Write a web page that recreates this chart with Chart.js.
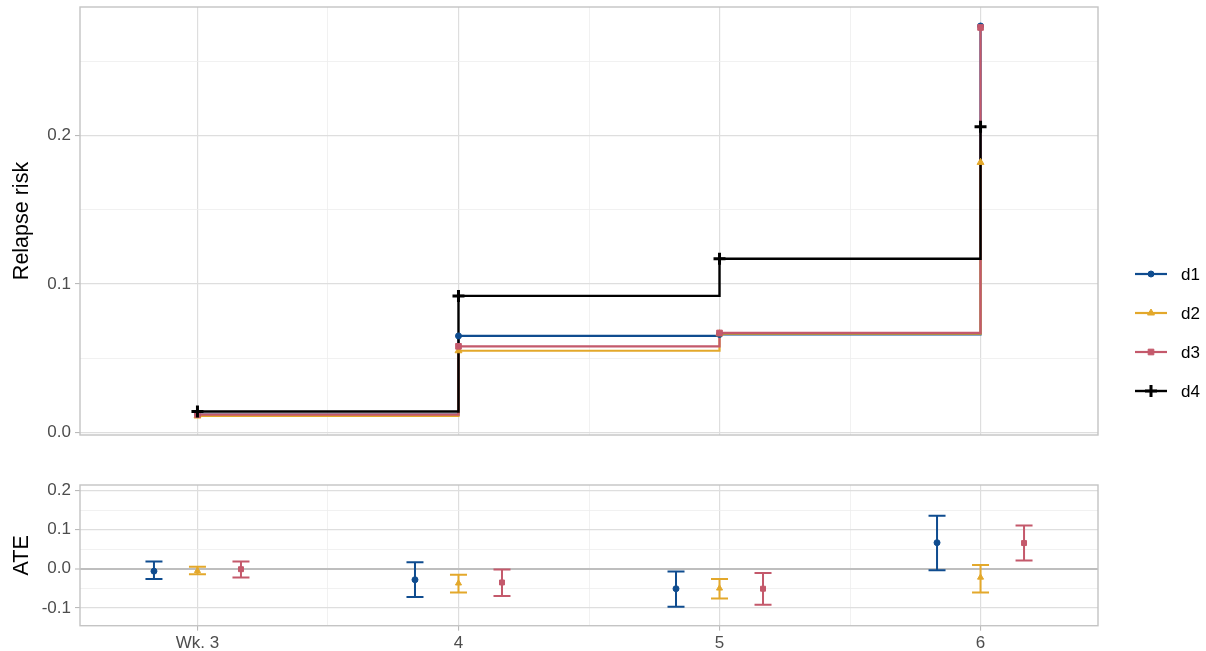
<!DOCTYPE html>
<html>
<head>
<meta charset="utf-8">
<script src="https://cdn.jsdelivr.net/npm/chart.js@4.4.1/dist/chart.umd.min.js"></script>
<style>
  html, body { margin: 0; padding: 0; background: #fff; }
  #wrap { position: relative; width: 1206px; height: 651px; }
  #riskChart { position: absolute; left: 0; top: 0; }
  #ateChart { position: absolute; left: 0; top: 452px; }
</style>
</head>
<body>
<div id="wrap">
  <canvas id="riskChart" width="1206" height="452"></canvas>
  <canvas id="ateChart" width="1206" height="199"></canvas>
</div>
<script>
// Relapse risk step curves (top) + ATE error bars (bottom)
const WEEKS = [3, 4, 5, 6];
const WEEK_LABELS = ["Wk. 3", "4", "5", "6"];

const riskD1 = [0.012, 0.065, 0.066, 0.274];
const riskD2 = [0.011, 0.055, 0.0665, 0.182];
const riskD3 = [0.012, 0.058, 0.067, 0.273];
const riskD4 = [0.014, 0.092, 0.117, 0.206];

const ateD1 = [-0.006, -0.028, -0.051, 0.067];
const ateD1Lo = [-0.026, -0.072, -0.097, -0.004];
const ateD1Hi = [0.019, 0.017, -0.007, 0.136];
const ateD2 = [-0.005, -0.037, -0.050, -0.022];
const ateD2Lo = [-0.014, -0.061, -0.076, -0.061];
const ateD2Hi = [0.005, -0.015, -0.026, 0.010];
const ateD3 = [-0.001, -0.035, -0.051, 0.066];
const ateD3Lo = [-0.022, -0.070, -0.092, 0.021];
const ateD3Hi = [0.019, -0.002, -0.011, 0.111];

const COLORS = { d1: "#0F4C8F", d2: "#E3A82B", d3: "#C4596B", d4: "#000000" };
const SHAPES = { d1: "circle", d2: "triangle", d3: "rect", d4: "cross" };
const RADIUS = { d1: 3, d2: 4, d3: 4, d4: 6 };
const DRAW_ORDER = { d1: 4, d2: 3, d3: 2, d4: 1 };
const DODGE = 1 / 6;

const FONT = "'Liberation Sans', Arial, sans-serif";
const isMajor = (v, step) => Math.abs(v / step - Math.round(v / step)) < 1e-6;

function gridOpts(step, zeroLine) {
  return {
    color: (c) => {
      if (!c.tick) return "#DEDEDE";
      if (zeroLine && Math.abs(c.tick.value) < 1e-9) return "#BEBEBE";
      return isMajor(c.tick.value, step) ? "#DEDEDE" : "#EEEEEE";
    },
    lineWidth: (c) => {
      if (!c.tick) return 1;
      if (zeroLine && Math.abs(c.tick.value) < 1e-9) return 2;
      return isMajor(c.tick.value, step) ? 1.2 : 0.8;
    },
    tickColor: (c) => (c.tick && isMajor(c.tick.value, step) ? "#B3B3B3" : "rgba(0,0,0,0)"),
    tickWidth: 1,
    tickLength: 5,
  };
}

const panelBorder = {
  id: "panelBorder",
  afterDraw(chart) {
    const { ctx, chartArea: a } = chart;
    ctx.save();
    ctx.strokeStyle = "#C4C4C4";
    ctx.lineWidth = 1.4;
    ctx.strokeRect(a.left, a.top, a.right - a.left, a.bottom - a.top);
    ctx.restore();
  },
};

const sideLegend = {
  id: "sideLegend",
  afterDraw(chart) {
    const ctx = chart.ctx;
    chart.data.datasets.filter((ds) => ds.isStep).forEach((ds, i) => {
      const y = 274 + i * 39;
      const key = ds.label;
      ctx.save();
      ctx.strokeStyle = COLORS[key];
      ctx.lineWidth = ds.borderWidth;
      ctx.beginPath();
      ctx.moveTo(1135, y);
      ctx.lineTo(1167, y);
      ctx.stroke();
      ctx.fillStyle = COLORS[key];
      ctx.lineWidth = key === "d4" ? 3 : 1;
      Chart.helpers.drawPoint(ctx, {
        pointStyle: SHAPES[key], radius: RADIUS[key],
        borderWidth: key === "d4" ? 3 : 1, rotation: 0,
      }, 1151, y);
      ctx.fillStyle = "#000";
      ctx.font = "17px " + FONT;
      ctx.textBaseline = "middle";
      ctx.textAlign = "left";
      ctx.fillText(key, 1181, y + 1);
      ctx.restore();
    });
  },
};

const errorBars = {
  id: "errorBars",
  beforeDatasetsDraw(chart) {
    const { ctx, scales: { x, y } } = chart;
    chart.data.datasets.forEach((ds) => {
      ctx.save();
      ctx.strokeStyle = ds.borderColor;
      ctx.lineWidth = 2;
      ds.data.forEach((p) => {
        const px = x.getPixelForValue(p.x);
        const yl = y.getPixelForValue(p.lo);
        const yh = y.getPixelForValue(p.hi);
        ctx.beginPath();
        ctx.moveTo(px, yl); ctx.lineTo(px, yh);
        ctx.moveTo(px - 8.5, yl); ctx.lineTo(px + 8.5, yl);
        ctx.moveTo(px - 8.5, yh); ctx.lineTo(px + 8.5, yh);
        ctx.stroke();
      });
      ctx.restore();
    });
  },
};

// step lines (no markers) are drawn first, markers go on top of all lines
function stepSet(label, values) {
  return {
    label,
    isStep: true,
    order: 10 + DRAW_ORDER[label],
    data: WEEKS.map((w, i) => ({ x: w, y: values[i] })),
    borderColor: COLORS[label],
    borderWidth: label === "d4" ? 2.4 : 2.2,
    stepped: "before",
    pointRadius: 0,
    fill: false,
  };
}

function markerSet(label, values) {
  return {
    label: label + " pts",
    order: DRAW_ORDER[label],
    data: WEEKS.map((w, i) => ({ x: w, y: values[i] })),
    showLine: false,
    pointStyle: SHAPES[label],
    pointRadius: RADIUS[label],
    pointBackgroundColor: COLORS[label],
    pointBorderColor: COLORS[label],
    pointBorderWidth: label === "d4" ? 3 : 1,
  };
}

function ateSet(label, est, lo, hi, shift) {
  return {
    label,
    data: WEEKS.map((w, i) => ({ x: w + shift, y: est[i], lo: lo[i], hi: hi[i] })),
    borderColor: COLORS[label],
    backgroundColor: COLORS[label],
    pointStyle: SHAPES[label],
    pointRadius: label === "d1" ? 3 : 3.5,
    pointBorderWidth: 1,
    showLine: false,
  };
}

const xTicks = [3, 3.5, 4, 4.5, 5, 5.5, 6];

function yAxis(title, min, max, ticks, zeroLine) {
  return {
    type: "linear",
    min, max,
    afterBuildTicks: (s) => { s.ticks = ticks.map((v) => ({ value: v })); },
    afterFit: (s) => { s.width = 80; s.paddingTop = 0; s.paddingBottom = 0; },
    grid: gridOpts(0.1, zeroLine),
    border: { display: false },
    ticks: {
      color: "#4D4D4D",
      font: { family: FONT, size: 17 },
      padding: 4,
      autoSkip: false,
      callback: (v) => (isMajor(v, 0.1) ? v.toFixed(1) : ""),
    },
    title: {
      display: true, text: title, color: "#000",
      font: { family: FONT, size: 21.5 },
      padding: { top: 9, bottom: 0 },
    },
  };
}

new Chart(document.getElementById("riskChart"), {
  type: "line",
  data: {
    datasets: [
      stepSet("d1", riskD1),
      stepSet("d2", riskD2),
      stepSet("d3", riskD3),
      stepSet("d4", riskD4),
      markerSet("d1", riskD1),
      markerSet("d2", riskD2),
      markerSet("d3", riskD3),
      markerSet("d4", riskD4),
    ],
  },
  options: {
    responsive: false,
    animation: false,
    layout: { autoPadding: false, padding: { left: 0, right: 108, top: 7, bottom: 17 } },
    plugins: { legend: { display: false }, tooltip: { enabled: false } },
    scales: {
      x: {
        type: "linear", min: 2.55, max: 6.45,
        afterBuildTicks: (s) => { s.ticks = xTicks.map((v) => ({ value: v })); },
        afterFit: (s) => { s.height = 0; s.paddingLeft = 0; s.paddingRight = 0; },
        grid: Object.assign(gridOpts(1, false), { drawTicks: false }),
        border: { display: false },
        ticks: { display: false },
      },
      y: yAxis("Relapse risk", -0.0018, 0.2868, [0, 0.05, 0.1, 0.15, 0.2, 0.25], false),
    },
  },
  plugins: [panelBorder, sideLegend],
});

new Chart(document.getElementById("ateChart"), {
  type: "scatter",
  data: {
    datasets: [
      ateSet("d1", ateD1, ateD1Lo, ateD1Hi, -DODGE),
      ateSet("d2", ateD2, ateD2Lo, ateD2Hi, 0),
      ateSet("d3", ateD3, ateD3Lo, ateD3Hi, DODGE),
    ],
  },
  options: {
    responsive: false,
    animation: false,
    layout: { autoPadding: false, padding: { left: 0, right: 108, top: 33, bottom: 0 } },
    plugins: { legend: { display: false }, tooltip: { enabled: false } },
    scales: {
      x: {
        type: "linear", min: 2.55, max: 6.45,
        afterBuildTicks: (s) => { s.ticks = xTicks.map((v) => ({ value: v })); },
        afterFit: (s) => { s.height = 25.3; s.paddingLeft = 0; s.paddingRight = 0; },
        grid: gridOpts(1, false),
        border: { display: false },
        ticks: {
          color: "#4D4D4D",
          font: { family: FONT, size: 17 },
          padding: 2,
          autoSkip: false,
          maxRotation: 0,
          callback: (v) => {
            const i = WEEKS.indexOf(v);
            return i >= 0 ? WEEK_LABELS[i] : "";
          },
        },
      },
      y: yAxis("ATE", -0.1458, 0.2148, [-0.1, -0.05, 0, 0.05, 0.1, 0.15, 0.2], true),
    },
  },
  plugins: [errorBars, panelBorder],
});
</script>
</body>
</html>
